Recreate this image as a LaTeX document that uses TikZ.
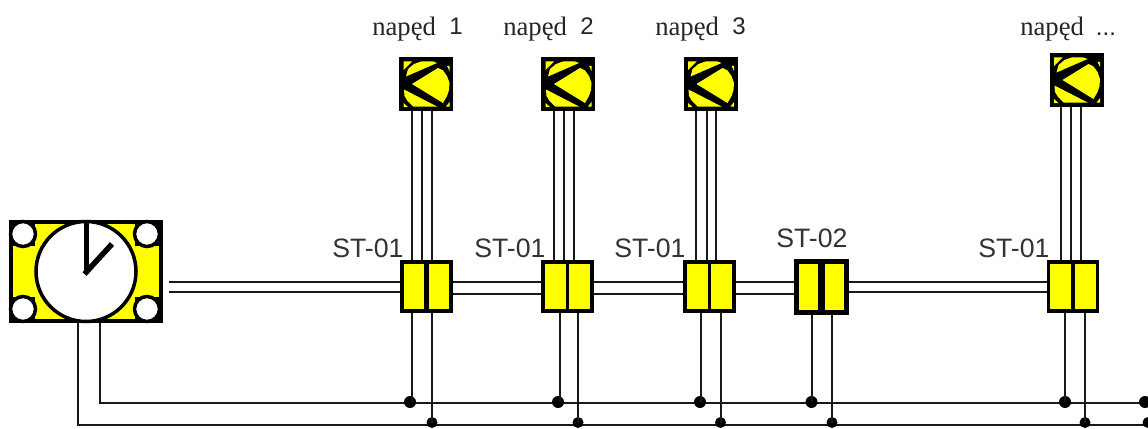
\documentclass[tikz,border=0pt]{standalone}
\usepackage{fontspec}
\setmainfont{Liberation Serif}
\setsansfont{Liberation Sans}
\definecolor{yel}{RGB}{255,255,0}
\definecolor{ink}{RGB}{25,25,25}
\newcommand{\px}{0.75pt}
\newcommand{\motorart}[1]{%
  \begin{scope}[shift={(#1.center)},yellowbit/.style={fill=yel}]
    \fill[yellowbit] (-22.5,-22.5) -- (-14,-22.5) -- (-22.5,-14) -- cycle;
    \fill[yellowbit] (-20,-7.5) -- (-18,-15) -- (-12,-20) -- (-5,-22.5) -- (7,-22.5) -- (11,-21) -- cycle;
    \fill[yellowbit] (-14,0) -- (12,-16) -- (17,-13.5) -- (21,-8) -- (23.5,-1) -- (23,6) -- (21,12) -- (17,19) -- cycle;
    \fill[yellowbit] (-22,5.5) -- (11,22.5) -- (-13,22.5) -- (-18.5,17) -- (-21.5,12) -- cycle;
    \fill[yellowbit] (-22.5,19) -- (-22.5,23) -- (-18,23) -- cycle;
    \fill[yellowbit] (21,-18) -- (23.5,-18) -- (23.5,-13) -- cycle;
    \fill[yellowbit] (20,22.5) -- (23.5,22.5) -- (23.5,18) -- cycle;
  \end{scope}}
\tikzset{
  x=0.75pt,y=-0.75pt,
  wire/.style={line width=2*\px,draw=ink},
  motorbox/.style={draw=black,line width=2*\px,fill=black,rectangle,minimum width=52*\px,minimum height=52*\px,inner sep=0pt,outer sep=1*\px},
  unitbox/.style={draw=black,line width=3.5*\px,fill=yel,rectangle,minimum width=49*\px,minimum height=49*\px,inner sep=0pt,outer sep=1.75*\px},
  unitbig/.style={unitbox,line width=5.5*\px,outer sep=2.75*\px,minimum width=50*\px,minimum height=51*\px},
  clockbox/.style={draw=black,line width=4*\px,fill=yel,rectangle,minimum width=150*\px,minimum height=99*\px,inner sep=0pt,outer sep=2*\px},
  dota/.style={circle,fill=black,inner sep=0pt,minimum size=12*\px},
  dotb/.style={circle,fill=black,inner sep=0pt,minimum size=11*\px},
  lab/.style={anchor=base west,inner sep=0pt,font=\sffamily\fontsize{20pt}{21pt}\selectfont,text=black!80},
  mlab/.style={anchor=base west,inner sep=0pt,font=\fontsize{20pt}{21pt}\selectfont,text=black!85},
}
\newcommand{\num}[1]{\hspace{10pt}{\raisebox{1pt}{\sffamily\fontsize{18pt}{19pt}\selectfont #1}}}
\begin{document}
\begin{tikzpicture}
\useasboundingbox (0,0) rectangle (1148,428);
\fill[white] (0,0) rectangle (1148,428);
\coordinate (busA) at (1148,403);
\coordinate (busB) at (1148,424.5);
% clock
\node[clockbox] (clk) at (86,271.5) {};
% units
\node[unitbox] (u1) at (426.5,286.5) {};
\node[unitbox] (u2) at (567.5,286.5) {};
\node[unitbox] (u3) at (709.5,286.5) {};
\node[unitbig] (u4) at (821.5,287) {};
\node[unitbox] (u5) at (1073,286.5) {};
% motors
\node[motorbox] (m1) at (426,84) {};
\node[motorbox] (m2) at (568,84) {};
\node[motorbox] (m3) at (710.5,84) {};
\node[motorbox] (m4) at (1076.5,80) {};
\motorart{m1}\motorart{m2}\motorart{m3}\motorart{m4}
% clock art
\foreach \qx/\qy in {11/222,135/222,11/297,135/297}
  \fill (\qx,\qy) rectangle ++(24,24);
\foreach \cx/\cy in {23/234,147/234,23/309,147/309}
  \draw[line width=3.5*\px,fill=white] (\cx,\cy) circle (12.5);
\draw[line width=3.5*\px,fill=white] (86,271.5) circle (50);
\draw[line width=5*\px,line cap=butt] (86,274) -- (86,222);
\draw[line width=5.5*\px,line cap=butt] (84.5,274) -- (112,244);
% dividers
\foreach \n/\x/\w in {u1/426.7/5,u2/567.7/3.5,u3/709.7/3,u5/1073/3.7,u4/821.7/7}
  \draw[line width=\w*\px] (\x,0 |- \n.north) -- (\x,0 |- \n.south);
% power pairs
\coordinate (c1) at (169,282);
\coordinate (c2) at (169,292);
\draw[wire] (c1) -- (c1 -| u1.west);
\draw[wire] (c2) -- (c2 -| u1.west);
\foreach \a/\b/\y in {u1/u2/282,u1/u2/294,u2/u3/282,u2/u3/294,u3/u4/282,u3/u4/294,u4/u5/282,u4/u5/292}
  \draw[wire] (\a.east |- 0,\y) -- (\b.west |- 0,\y);
% motor triples
\foreach \m/\u/\x in {m1/u1/412,m1/u1/422,m1/u1/432,m2/u2/554,m2/u2/564,m2/u2/574,m3/u3/696,m3/u3/706.5,m3/u3/716,m4/u5/1061,m4/u5/1071,m4/u5/1081}
  \draw[wire] (\x,0 |- \m.south) -- (\x,0 |- \u.north);
% buses
\draw[wire] (clk.south -| 100,0) -- (100,403) -- (busA);
\draw[wire] (clk.south -| 78,0) -- (78,424.5) -- (busB);
% taps
\node[dota] (a1) at (410,402) {};
\node[dotb] (b1) at (432,422.5) {};
\node[dota] (a2) at (558,402) {};
\node[dotb] (b2) at (578,422.5) {};
\node[dota] (a3) at (700,402) {};
\node[dotb] (b3) at (720.5,422.5) {};
\node[dota] (a4) at (811.5,402) {};
\node[dotb] (b4) at (832,422.5) {};
\node[dota] (a5) at (1065,402) {};
\node[dotb] (b5) at (1085,422.5) {};
\node[dota] (a6) at (1145,402) {};
\node[dotb] (b6) at (1148,422.5) {};
\foreach \u/\x/\t in {u1/412/a1,u1/432/b1,u2/560/a2,u2/578/b2,u3/700.5/a3,u3/720.5/b3,u4/812/a4,u4/832/b4,u5/1065/a5,u5/1085/b5}
  \draw[wire] (\x,0 |- \u.south) -- (\x,0 |- \t.center);
% labels
\node[lab] (l1) at (332,257) {ST-01};
\node[lab] (l2) at (474,257) {ST-01};
\node[lab] (l3) at (614,257) {ST-01};
\node[lab] (l4) at (776,247) {ST-02};
\node[lab] (l5) at (978,257) {ST-01};
\node[mlab] (t1) at (372,36) {napęd\num{1}};
\node[mlab] (t2) at (503,36) {napęd\num{2}};
\node[mlab] (t3) at (655,36) {napęd\num{3}};
\node[mlab] (t4) at (1020,36) {napęd\hspace{9pt}{\sffamily\fontsize{18pt}{19pt}\selectfont ...}};
\end{tikzpicture}
\end{document}
